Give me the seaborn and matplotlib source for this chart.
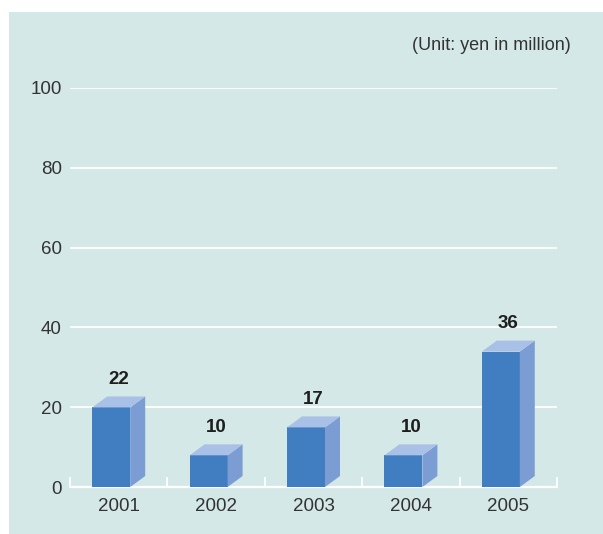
import matplotlib
matplotlib.use("Agg")
import matplotlib.pyplot as plt
from matplotlib.patches import Polygon, Rectangle
import seaborn as sns
import pandas as pd

years = ["2001", "2002", "2003", "2004", "2005"]
values = [22, 10, 17, 10, 36]
y_ticks = [0, 20, 40, 60, 80, 100]
unit_label = "(Unit: yen in million)"

BG = "#d4e8e7"
FRONT = "#417dc1"
SIDE = "#7b9dd3"
TOP = "#a9c1e6"
TXT = "#333333"

W, H = 603, 534
sns.set_theme(style="white")
plt.rcParams["font.family"] = ["Liberation Sans", "DejaVu Sans"]

fig = plt.figure(figsize=(W / 100, H / 100), dpi=100)
fig.patch.set_facecolor("white")
fig.patches.append(Rectangle((9 / W, 0), 1, (H - 12) / H, transform=fig.transFigure,
                             facecolor=BG, edgecolor="none", zorder=-5))

ax = fig.add_axes([70 / W, (H - 487) / H, 487 / W, (487 - 88) / H])
ax.set_facecolor("none")
ax.set_zorder(2)

# depth of the 3D boxes (in data units)
DX = 0.154          # category units
DY = 2.75           # value units
BAR_W = 0.39
SHIFT = -0.077

df = pd.DataFrame({"year": years, "value": values})
df["front"] = df["value"] - 0.75 * DY
sns.barplot(data=df, x="year", y="front", color=FRONT, saturation=1,
            width=BAR_W, ax=ax, zorder=3, edgecolor="none", linewidth=0)

for p in list(ax.patches):
    x0 = p.get_x() + SHIFT
    p.set_x(x0)
    w = p.get_width()
    h = p.get_height()
    x1 = x0 + w
    side = Polygon([(x1, 0), (x1 + DX, DY), (x1 + DX, h + DY), (x1, h)],
                   closed=True, facecolor=SIDE, edgecolor="none", zorder=3)
    top = Polygon([(x0, h), (x1, h), (x1 + DX, h + DY), (x0 + DX, h + DY)],
                  closed=True, facecolor=TOP, edgecolor="none", zorder=3)
    ax.add_patch(side)
    ax.add_patch(top)

for i, v in enumerate(values):
    ax.annotate(str(v), xy=(i, v), xytext=(0, 8), textcoords="offset points",
                ha="center", va="bottom", fontsize=13.5, fontweight="bold",
                color="#1e1e1e", zorder=5, annotation_clip=False)

ax.set_xlim(-0.5, len(years) - 0.5)
ax.set_ylim(0, 100)
ax.set_yticks(y_ticks)
ax.set_yticklabels([str(t) for t in y_ticks])

for t in y_ticks[1:]:
    ax.axhline(t, color="white", lw=1.3, zorder=1)
ax.axhline(0, color="white", lw=1.6, zorder=2, clip_on=False)
ax.vlines([i - 0.5 for i in range(len(years) + 1)], 0, 2.5, color="white",
          lw=1.3, zorder=2, clip_on=False)

for s in ax.spines.values():
    s.set_visible(False)
ax.tick_params(axis="both", length=0, labelsize=13.5, labelcolor=TXT)
ax.tick_params(axis="y", pad=6)
ax.tick_params(axis="x", pad=8)
ax.set_xlabel("")
ax.set_ylabel("")
ax.grid(False)

fig.text(571 / W, (H - 45) / H, unit_label, ha="right", va="center",
         fontsize=13, color=TXT)

fig.savefig("out.png", dpi=100)
